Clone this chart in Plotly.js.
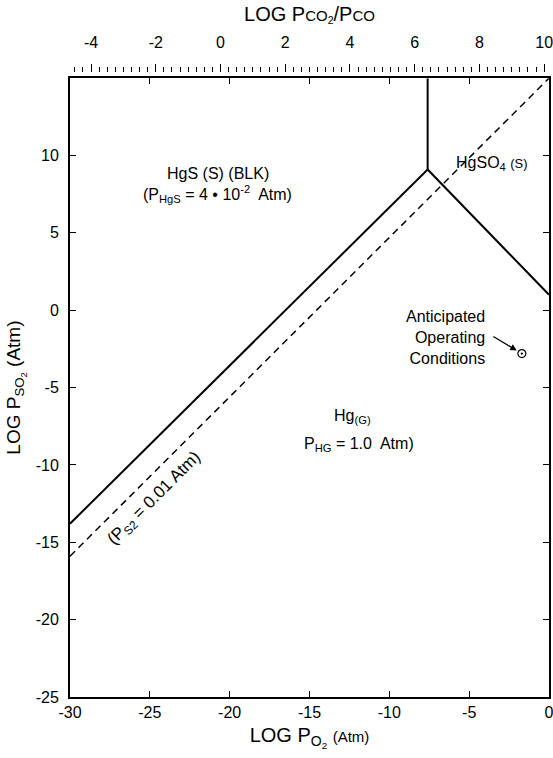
<!DOCTYPE html>
<html>
<head>
<meta charset="utf-8">
<script src="https://cdn.plot.ly/plotly-3.0.1.min.js"></script>
<style>html,body{margin:0;padding:0;background:#fff;}#chart{width:553px;height:758px;}</style>
</head>
<body>
<div id="chart"></div>
<script>
// Boundary: HgS(s) / Hg(g)
const hgsBoundaryX = [-30, -7.6];
const hgsBoundaryY = [-13.8, 9.1];
// Boundary: HgS(s) / HgSO4(s)
const sulfateVertX = [-7.6, -7.6];
const sulfateVertY = [9.1, 15];
// Boundary: HgSO4(s) / Hg(g)
const sulfateDiagX = [-7.6, 0];
const sulfateDiagY = [9.1, 1.0];
// P_S2 = 0.01 atm dashed line
const ps2X = [-30, 0];
const ps2Y = [-15.9, 15];
// Anticipated operating point
const opX = [-1.7];
const opY = [-2.8];
// Ticks
const xTicks = [-30, -25, -20, -15, -10, -5, 0];
const xTickText = ['-30', '-25', '-20', '-15', '-10', '-5', '0'];
const yTicks = [-25, -20, -15, -10, -5, 0, 5, 10];
const yTickText = ['-25', '-20', '-15', '-10', '-5', '0', '5', '10'];
const topTicks = [-4, -2, 0, 2, 4, 6, 8, 10];
const topTickText = ['-4', '-2', '0', '2', '4', '6', '8', '10'];
const topRange = [-4.65, 10.15];

const F = 'Liberation Sans, Arial, sans-serif';
const black = '#000';

const traces = [
  {x: hgsBoundaryX, y: hgsBoundaryY, mode: 'lines', line: {color: black, width: 2}, hoverinfo: 'skip'},
  {x: sulfateVertX, y: sulfateVertY, mode: 'lines', line: {color: black, width: 2}, hoverinfo: 'skip'},
  {x: sulfateDiagX, y: sulfateDiagY, mode: 'lines', line: {color: black, width: 2}, hoverinfo: 'skip'},
  {x: ps2X, y: ps2Y, mode: 'lines', line: {color: black, width: 1.5, dash: '7px,5px'}, hoverinfo: 'skip'},
  {x: opX, y: opY, mode: 'markers', marker: {symbol: 'circle-open-dot', size: 8, color: black, line: {color: black, width: 1.2}}, hoverinfo: 'skip'},
  {x: topTicks, y: topTicks.map(() => null), xaxis: 'x2', yaxis: 'y', mode: 'markers', marker: {opacity: 0}, hoverinfo: 'skip'}
];

const layout = {
  width: 553, height: 758,
  margin: {l: 70, r: 4, t: 70, b: 61},
  paper_bgcolor: '#fff', plot_bgcolor: '#fff',
  showlegend: false,
  font: {family: F, color: black, size: 16},
  xaxis: {
    range: [-30, 0], autorange: false, tickvals: xTicks, ticktext: xTickText,
    showgrid: false, zeroline: false,
    showline: true, linecolor: black, linewidth: 2, mirror: 'ticks',
    ticks: 'inside', ticklen: 6, tickwidth: 1, tickcolor: black,
    ticklabeloverflow: 'allow',
    tickfont: {family: F, size: 16, color: black},
    title: {text: 'LOG P<sub>O<sub>2</sub></sub> <span style="font-size:15px">(Atm)</span>', font: {family: F, size: 20, color: black}, standoff: 8}
  },
  xaxis2: {
    overlaying: 'x', side: 'top', anchor: 'free', position: 0.997,
    range: topRange, autorange: false, tickvals: topTicks, ticktext: topTickText,
    showgrid: false, zeroline: false, showline: false,
    ticks: 'outside', ticklen: 8, tickwidth: 1, tickcolor: black,
    minor: {dtick: 0.25, ticks: 'outside', ticklen: 5, tickwidth: 1, tickcolor: black, showgrid: false},
    ticklabelstandoff: 9,
    ticklabeloverflow: 'allow',
    tickfont: {family: F, size: 16, color: black},
    title: {text: 'LOG P<span style="font-size:15px">CO<sub>2</sub></span>/P<span style="font-size:15px">CO</span>', font: {family: F, size: 20, color: black}, standoff: 6}
  },
  yaxis: {
    domain: [0, 0.987],
    range: [-25, 15], autorange: false, tickvals: yTicks, ticktext: yTickText,
    showgrid: false, zeroline: false,
    showline: true, linecolor: black, linewidth: 2, mirror: 'ticks',
    ticks: 'inside', ticklen: 6, tickwidth: 1, tickcolor: black,
    ticklabelstandoff: 6,
    ticklabeloverflow: 'allow',
    tickfont: {family: F, size: 16, color: black},
    title: {text: 'LOG P<sub>SO<sub>2</sub></sub> (Atm)', font: {family: F, size: 19, color: black}, standoff: 10}
  },
  annotations: [
    {x: -20.75, y: 8.85, xref: 'x', yref: 'y', text: 'HgS (S) (BLK)', showarrow: false, font: {family: F, size: 16, color: black}},
    {x: -20.75, y: 7.5, xref: 'x', yref: 'y', text: '(P<sub>HgS</sub> = 4 • 10<sup>-2</sup>  Atm)', showarrow: false, font: {family: F, size: 16, color: black}},
    {x: -3.6, y: 9.5, xref: 'x', yref: 'y', text: 'HgSO<sub>4</sub> <span style="font-size:13px">(S)</span>', showarrow: false, font: {family: F, size: 16, color: black}},
    {x: -12.3, y: -6.9, xref: 'x', yref: 'y', text: 'Hg<sub>(G)</sub>', showarrow: false, font: {family: F, size: 16, color: black}},
    {x: -11.9, y: -8.7, xref: 'x', yref: 'y', text: 'P<sub>HG</sub> = 1.0  Atm)', showarrow: false, font: {family: F, size: 16, color: black}},
    {x: -24.7, y: -12.2, xref: 'x', yref: 'y', text: '(P<sub>S2</sub> = 0.01 Atm)', textangle: -45, showarrow: false, font: {family: F, size: 17, color: black}},
    {x: -3.9, y: -1.75, xref: 'x', yref: 'y', text: 'Anticipated<br>Operating<br>Conditions', align: 'right', xanchor: 'right', showarrow: false, font: {family: F, size: 16, color: black}},
    {x: opX[0], y: opY[0], xref: 'x', yref: 'y', text: '', showarrow: true, arrowhead: 2, arrowsize: 1, arrowwidth: 1.3, arrowcolor: black, ax: -30, ay: -18, standoff: 6}
  ]
};

Plotly.newPlot('chart', traces, layout, {displayModeBar: false, staticPlot: true});
</script>
</body>
</html>
